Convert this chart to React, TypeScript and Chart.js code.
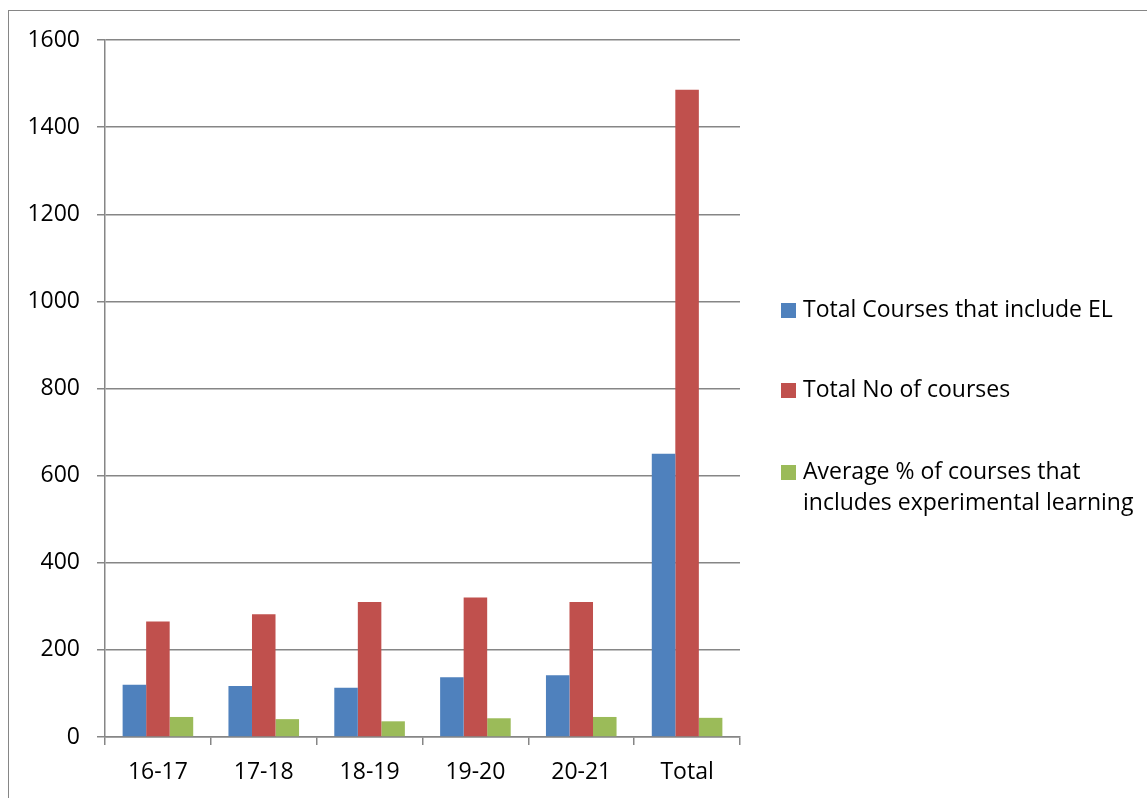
import React, { useEffect, useRef } from "react";
import { Chart, registerables } from "chart.js";

Chart.register(...registerables);

const categories = ["16-17", "17-18", "18-19", "19-20", "20-21", "Total"];
const coursesWithEL = [120, 117, 113, 137, 142, 650];
const totalCourses = [265, 282, 310, 320, 310, 1486];
const averagePercent = [46, 41, 36, 43, 46, 44];
const seriesNames = [
  "Total Courses that include EL",
  "Total No of courses",
  "Average % of courses that includes experimental learning",
];
const seriesColors = ["#4F81BD", "#C0504D", "#9BBB59"];
const yTicks = [0, 200, 400, 600, 800, 1000, 1200, 1400, 1600];

const FONT = "'Open Sans', 'Noto Sans', sans-serif";

export default function App() {
  const canvasRef = useRef<HTMLCanvasElement | null>(null);

  useEffect(() => {
    if (!canvasRef.current) return;
    const chart = new Chart(canvasRef.current, {
      type: "bar",
      data: {
        labels: categories,
        datasets: [coursesWithEL, totalCourses, averagePercent].map((d, i) => ({
          label: seriesNames[i],
          data: d,
          backgroundColor: seriesColors[i],
          borderWidth: 0,
          barPercentage: 1,
          categoryPercentage: 0.667,
        })),
      },
      options: {
        animation: false,
        responsive: true,
        maintainAspectRatio: false,
        layout: { padding: { left: 0, top: 40, right: 407, bottom: 0 } },
        plugins: {
          legend: { display: false },
          tooltip: { enabled: false },
        },
        scales: {
          x: {
            grid: {
              offset: true,
              drawOnChartArea: false,
              drawTicks: true,
              tickLength: 8,
              color: "#868686",
              lineWidth: 1.5,
            },
            border: { color: "#868686", width: 1.5 },
            ticks: {
              color: "#000",
              padding: 14,
              font: { family: FONT, size: 23 },
            },
            afterFit: (s: any) => {
              s.height = 61;
            },
          },
          y: {
            min: 0,
            max: 1600,
            afterBuildTicks: (s: any) => {
              s.ticks = yTicks.map((v) => ({ value: v }));
            },
            grid: {
              color: "#868686",
              lineWidth: 1.5,
              drawTicks: true,
              tickLength: 8,
            },
            border: { color: "#868686", width: 1.5 },
            ticks: {
              color: "#000",
              padding: 17,
              font: { family: FONT, size: 23 },
              callback: (v: any) => String(v),
            },
            afterFit: (s: any) => {
              s.width = 105;
            },
          },
        },
      },
    });
    return () => chart.destroy();
  }, []);

  const legendTop = [293, 373, 455];

  return (
    <div
      style={{
        position: "fixed",
        left: 0,
        top: 0,
        width: 1147,
        height: 798,
        overflow: "hidden",
        background: "#fff",
      }}
    >
      <div
        style={{
          position: "absolute",
          left: 8,
          top: 10,
          width: 1300,
          height: 1000,
          border: "1.5px solid #868686",
        }}
      />
      <canvas
        ref={canvasRef}
        style={{ position: "absolute", left: 0, top: 0, width: 1147, height: 798 }}
      />
      {seriesNames.map((name, i) => (
        <div
          key={name}
          style={{
            position: "absolute",
            left: 781,
            top: legendTop[i],
            display: "flex",
            alignItems: "flex-start",
            fontFamily: FONT,
            fontSize: 23,
            lineHeight: "31px",
            color: "#000",
            width: 366,
            whiteSpace: "nowrap",
          }}
        >
          <span
            style={{
              display: "inline-block",
              width: 15,
              height: 15,
              background: seriesColors[i],
              marginTop: 10,
              marginRight: 7,
              flex: "none",
            }}
          />
          <span>{i === 2 ? (<>Average % of courses that<br />includes experimental learning</>) : name}</span>
        </div>
      ))}
    </div>
  );
}
